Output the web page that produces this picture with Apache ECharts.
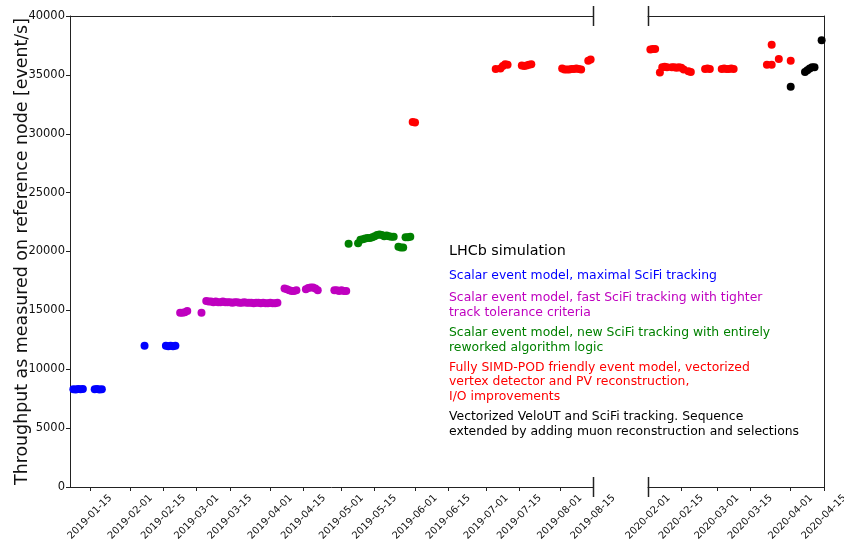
<!DOCTYPE html>
<html>
<head>
<meta charset="utf-8">
<script src="https://cdn.jsdelivr.net/npm/echarts@6/dist/echarts.min.js"></script>
<style>
  html, body { margin: 0; padding: 0; background: #fff; }
  #chart { width: 844px; height: 559px; }
</style>
</head>
<body>
<div id="chart"></div>
<script>
// Throughput measurements, [date, events per second]
const scalarMaximalSciFi = [
  ['2019-01-08', 8300], ['2019-01-09', 8280], ['2019-01-10', 8320], ['2019-01-11', 8300], ['2019-01-12', 8330],
  ['2019-01-17', 8300], ['2019-01-18', 8320], ['2019-01-19', 8280], ['2019-01-20', 8300],
  ['2019-02-07', 12000],
  ['2019-02-16', 12000], ['2019-02-17', 11950], ['2019-02-18', 12000], ['2019-02-19', 11950], ['2019-02-20', 12000]
];
const scalarFastSciFi = [
  ['2019-02-22', 14800], ['2019-02-23', 14800], ['2019-02-24', 14850], ['2019-02-25', 14950],
  ['2019-03-03', 14800],
  ['2019-03-05', 15800], ['2019-03-06', 15750], ['2019-03-07', 15750], ['2019-03-08', 15700], ['2019-03-09', 15750],
  ['2019-03-10', 15700], ['2019-03-11', 15700], ['2019-03-12', 15750], ['2019-03-13', 15700], ['2019-03-14', 15700],
  ['2019-03-15', 15700], ['2019-03-16', 15650], ['2019-03-17', 15700], ['2019-03-18', 15700], ['2019-03-19', 15650],
  ['2019-03-20', 15650], ['2019-03-21', 15700], ['2019-03-22', 15650], ['2019-03-23', 15650], ['2019-03-24', 15650],
  ['2019-03-25', 15600], ['2019-03-26', 15650], ['2019-03-27', 15650], ['2019-03-28', 15600], ['2019-03-29', 15650],
  ['2019-03-30', 15600], ['2019-03-31', 15600], ['2019-04-01', 15650], ['2019-04-02', 15600], ['2019-04-03', 15600],
  ['2019-04-04', 15650],
  ['2019-04-07', 16850], ['2019-04-08', 16800], ['2019-04-09', 16700], ['2019-04-10', 16650], ['2019-04-11', 16650],
  ['2019-04-12', 16700],
  ['2019-04-16', 16800], ['2019-04-17', 16900], ['2019-04-18', 16950], ['2019-04-19', 16950], ['2019-04-20', 16850],
  ['2019-04-21', 16700],
  ['2019-04-28', 16700], ['2019-04-29', 16700], ['2019-04-30', 16650], ['2019-05-01', 16700], ['2019-05-02', 16650],
  ['2019-05-03', 16650]
];
const scalarNewSciFi = [
  ['2019-05-04', 20650], ['2019-05-08', 20700], ['2019-05-09', 21000], ['2019-05-10', 21050], ['2019-05-11', 21100],
  ['2019-05-12', 21150], ['2019-05-13', 21150], ['2019-05-14', 21200], ['2019-05-15', 21300], ['2019-05-16', 21400],
  ['2019-05-17', 21450], ['2019-05-18', 21400], ['2019-05-19', 21300], ['2019-05-20', 21350], ['2019-05-21', 21300],
  ['2019-05-22', 21250], ['2019-05-23', 21250],
  ['2019-05-25', 20400], ['2019-05-26', 20350], ['2019-05-27', 20350],
  ['2019-05-28', 21200], ['2019-05-29', 21200], ['2019-05-30', 21250]
];
const simdPodModel = [
  ['2019-05-31', 31000], ['2019-06-01', 30950],
  ['2019-07-05', 35500], ['2019-07-07', 35550], ['2019-07-08', 35750], ['2019-07-09', 35900], ['2019-07-10', 35850],
  ['2019-07-16', 35800], ['2019-07-17', 35750], ['2019-07-18', 35800], ['2019-07-19', 35850], ['2019-07-20', 35900],
  ['2019-08-02', 35550], ['2019-08-03', 35450], ['2019-08-04', 35450], ['2019-08-05', 35450], ['2019-08-06', 35500],
  ['2019-08-07', 35500], ['2019-08-08', 35550], ['2019-08-09', 35500], ['2019-08-10', 35450],
  ['2019-08-13', 36200], ['2019-08-14', 36300],
  ['2020-02-02', 37150], ['2020-02-03', 37200], ['2020-02-04', 37200],
  ['2020-02-06', 35200],
  ['2020-02-07', 35650], ['2020-02-08', 35700], ['2020-02-09', 35650], ['2020-02-11', 35650], ['2020-02-12', 35650],
  ['2020-02-13', 35600], ['2020-02-14', 35650], ['2020-02-15', 35600], ['2020-02-16', 35450], ['2020-02-18', 35300],
  ['2020-02-19', 35250],
  ['2020-02-25', 35500], ['2020-02-26', 35550], ['2020-02-27', 35500],
  ['2020-03-03', 35500], ['2020-03-04', 35550], ['2020-03-05', 35500], ['2020-03-06', 35500], ['2020-03-07', 35550],
  ['2020-03-08', 35500],
  ['2020-03-22', 35850], ['2020-03-24', 35850], ['2020-03-24', 37550], ['2020-03-27', 36350], ['2020-04-01', 36200]
];
const vectorizedVeloUT = [
  ['2020-04-01', 34000],
  ['2020-04-07', 35250], ['2020-04-08', 35400], ['2020-04-09', 35550], ['2020-04-10', 35650], ['2020-04-11', 35650],
  ['2020-04-14', 37950]
];

// Axis ranges and tick labels of the two halves of the broken time axis
const leftRange = ['2019-01-06T14:00:00Z', '2019-08-15'];
const rightRange = ['2020-02-01', '2020-04-15'];
const leftTicks = ['2019-01-15', '2019-02-01', '2019-02-15', '2019-03-01', '2019-03-15', '2019-04-01', '2019-04-15',
  '2019-05-01', '2019-05-15', '2019-06-01', '2019-06-15', '2019-07-01', '2019-07-15', '2019-08-01', '2019-08-15'];
const rightTicks = ['2020-02-01', '2020-02-15', '2020-03-01', '2020-03-15', '2020-04-01', '2020-04-15'];
const yTicks = [0, 5000, 10000, 15000, 20000, 25000, 30000, 35000, 40000];

const yTitle = 'Throughput as measured on reference node [event/s]';
const annotationTitle = 'LHCb simulation';
const seriesInfo = [
  { data: scalarMaximalSciFi, color: '#0000ff', lines: ['Scalar event model, maximal SciFi tracking'] },
  { data: scalarFastSciFi, color: '#bf00bf', lines: ['Scalar event model, fast SciFi tracking with tighter', 'track tolerance criteria'] },
  { data: scalarNewSciFi, color: '#008000', lines: ['Scalar event model, new SciFi tracking with entirely', 'reworked algorithm logic'] },
  { data: simdPodModel, color: '#ff0000', lines: ['Fully SIMD-POD friendly event model, vectorized', 'vertex detector and PV reconstruction,', 'I/O improvements'] },
  { data: vectorizedVeloUT, color: '#000000', lines: ['Vectorized VeloUT and SciFi tracking. Sequence', 'extended by adding muon reconstruction and selections'] }
];

const FONT = 'DejaVu Sans';
const AXIS_COLOR = '#222';
const ts = s => (s.length > 10 ? Date.parse(s) : Date.parse(s + 'T00:00:00Z'));
const pad = n => (n < 10 ? '0' + n : '' + n);
const fmtDate = v => { const d = new Date(v); return d.getUTCFullYear() + '-' + pad(d.getUTCMonth() + 1) + '-' + pad(d.getUTCDate()); };

const G = { top: 16, height: 471, leftX: 70, breakL: 593, breakR: 648, rightX: 824 };
const grids = [
  { left: G.leftX, top: G.top, width: G.breakL - G.leftX, height: G.height, containLabel: false, outerBoundsMode: 'none' },
  { left: G.breakR, top: G.top, width: G.rightX - G.breakR, height: G.height, containLabel: false, outerBoundsMode: 'none' }
];

// Dates are plotted as millisecond timestamps on a linear axis
function bottomAxis(gridIndex, range, ticks) {
  const vals = ticks.map(ts);
  return {
    type: 'value', gridIndex, position: 'bottom', scale: true,
    min: ts(range[0]), max: ts(range[1]),
    axisLine: { show: true, onZero: false, lineStyle: { color: AXIS_COLOR, width: 1 } },
    axisTick: { show: true, customValues: vals, length: 4, lineStyle: { color: AXIS_COLOR } },
    axisLabel: {
      show: true, customValues: vals, rotate: 45, align: 'center', verticalAlign: 'middle', margin: 30,
      formatter: v => fmtDate(v), fontFamily: FONT, fontSize: 10, color: '#111',
      showMinLabel: true, showMaxLabel: true, hideOverlap: false
    },
    splitLine: { show: false }
  };
}
function topAxis(gridIndex, range) {
  return {
    type: 'value', gridIndex, position: 'top', scale: true,
    min: ts(range[0]), max: ts(range[1]),
    axisLine: { show: true, onZero: false, lineStyle: { color: AXIS_COLOR, width: 1 } },
    axisTick: { show: false }, axisLabel: { show: false }, splitLine: { show: false }
  };
}

const ranges = [leftRange, rightRange].map(r => [ts(r[0]), ts(r[1])]);
const series = [];
seriesInfo.forEach((s, i) => {
  [0, 1].forEach(g => {
    const pts = s.data
      .map(([d, v]) => [ts(d), v])
      .filter(([t]) => t >= ranges[g][0] && t <= ranges[g][1]);
    if (!pts.length) return;
    series.push({
      type: 'scatter', xAxisIndex: g, yAxisIndex: g, data: pts,
      symbol: 'circle', symbolSize: 8, itemStyle: { color: s.color, opacity: 1 },
      z: 2 + i, silent: true, clip: true
    });
  });
});

// Annotation block: title followed by one coloured description per series
const texts = [];
const textX = 449;
texts.push({ type: 'text', x: textX, y: 251, style: { text: annotationTitle, fill: '#000', font: '14.3px "' + FONT + '"', verticalAlign: 'middle' } });
const lineYs = [[276], [298, 313], [333, 348], [368, 382, 397], [417, 432]];
seriesInfo.forEach((s, i) => {
  s.lines.forEach((line, j) => {
    texts.push({ type: 'text', x: textX, y: lineYs[i][j], style: { text: line, fill: s.color, font: '12.4px "' + FONT + '"', verticalAlign: 'middle' } });
  });
});

// Vertical break marks through the top and bottom spines
[G.breakL, G.breakR].forEach(x => {
  [G.top, G.top + G.height].forEach(y => {
    texts.push({ type: 'line', shape: { x1: x + 0.5, y1: y - 10, x2: x + 0.5, y2: y + 10 }, style: { stroke: AXIS_COLOR, lineWidth: 1.5 }, z: 10 });
  });
});

const option = {
  animation: false,
  backgroundColor: '#fff',
  grid: grids,
  xAxis: [bottomAxis(0, leftRange, leftTicks), bottomAxis(1, rightRange, rightTicks), topAxis(0, leftRange), topAxis(1, rightRange)],
  yAxis: [
    {
      type: 'value', gridIndex: 0, min: yTicks[0], max: yTicks[yTicks.length - 1], interval: 5000,
      axisLine: { show: true, lineStyle: { color: AXIS_COLOR, width: 1 } },
      axisTick: { show: true, length: 4, lineStyle: { color: AXIS_COLOR } },
      axisLabel: { fontFamily: FONT, fontSize: 11.5, color: '#111', margin: 5, formatter: v => String(v) },
      splitLine: { show: false },
      name: yTitle, nameLocation: 'middle', nameGap: 39, nameRotate: 90, nameMoveOverlap: false,
      nameTextStyle: { fontFamily: FONT, fontSize: 17.4, color: '#111' }
    },
    {
      type: 'value', gridIndex: 1, position: 'right', min: yTicks[0], max: yTicks[yTicks.length - 1], interval: 5000,
      axisLine: { show: true, lineStyle: { color: AXIS_COLOR, width: 1 } },
      axisTick: { show: false }, axisLabel: { show: false }, splitLine: { show: false }
    }
  ],
  series,
  graphic: texts
};

const chart = echarts.init(document.getElementById('chart'), null, { renderer: 'canvas' });
chart.setOption(option);
</script>
</body>
</html>
